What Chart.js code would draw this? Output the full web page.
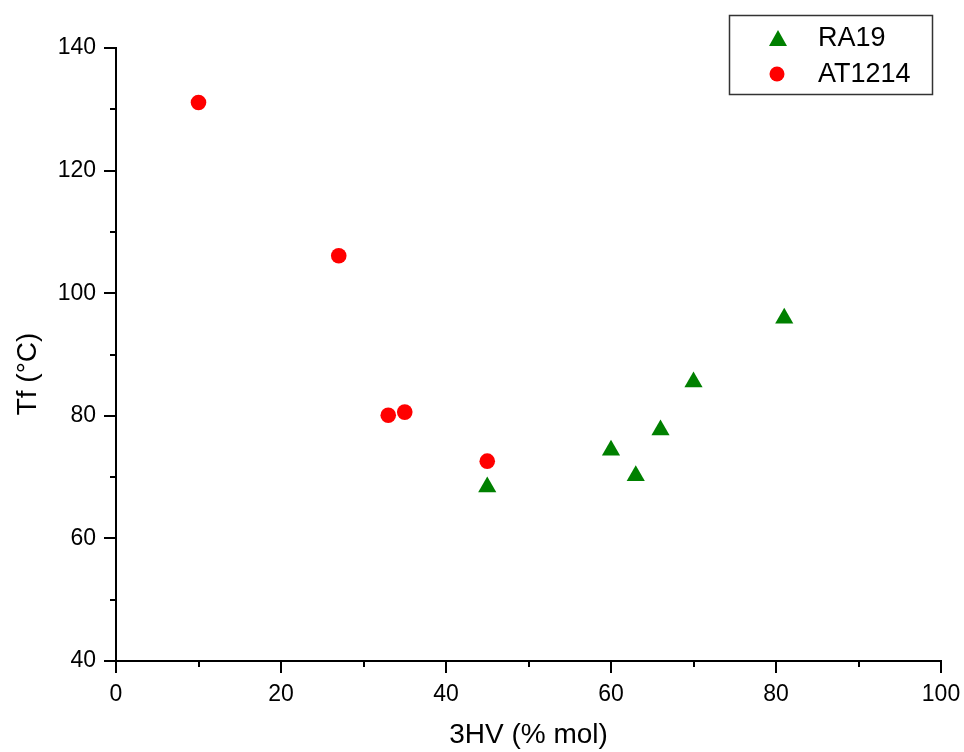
<!DOCTYPE html>
<html>
<head>
<meta charset="utf-8">
<script src="https://cdn.jsdelivr.net/npm/chart.js@4.4.1/dist/chart.umd.min.js"></script>
<style>
  html, body { margin: 0; padding: 0; background: #fff; }
  #wrap { width: 964px; height: 752px; }
</style>
</head>
<body>
<div id="wrap"><canvas id="myChart" width="964" height="752"></canvas></div>
<script>
// values
var ra19X = [45, 60, 63, 66, 70, 81];
var ra19Y = [68.4, 74.4, 70.2, 77.7, 85.5, 95.9];
var at1214X = [10, 27, 33, 35, 45];
var at1214Y = [131.1, 106.1, 80.1, 80.6, 72.6];

var xTicks = [0, 20, 40, 60, 80, 100];
var yTicks = [40, 60, 80, 100, 120, 140];
var xMinor = [10, 30, 50, 70, 90];
var yMinor = [50, 70, 90, 110, 130];

var FONT = "'Liberation Sans', Arial, sans-serif";

function toPoints(xs, ys) { // pairs up x and y arrays
  var pts = [];
  for (var i = 0; i < xs.length; i++) {
    pts.push({x: xs[i], y: ys[i]});
  }
  return pts;
}

// outward tick marks, long on the majors and short between them
var tickMarks = {
  id: 'tickMarks',
  afterDraw: function(chart) {
    var ctx = chart.ctx;
    var xs = chart.scales.x, ys = chart.scales.y;
    var area = chart.chartArea;
    ctx.save();
    ctx.strokeStyle = '#000';
    ctx.lineWidth = 2;
    ctx.beginPath();
    function xMark(v, len) {
      var px = Math.round(xs.getPixelForValue(v));
      ctx.moveTo(px, area.bottom);
      ctx.lineTo(px, area.bottom + len);
    }
    function yMark(v, len) {
      var py = Math.round(ys.getPixelForValue(v));
      ctx.moveTo(area.left, py);
      ctx.lineTo(area.left - len, py);
    }
    xTicks.forEach(function(v) { xMark(v, 12); });
    xMinor.forEach(function(v) { xMark(v, 6); });
    yTicks.forEach(function(v) { yMark(v, 12); });
    yMinor.forEach(function(v) { yMark(v, 6); });
    ctx.stroke();
    ctx.restore();
  }
};

// boxed legend inside the top right corner
var boxLegend = {
  id: 'boxLegend',
  afterDraw: function(chart) {
    var ctx = chart.ctx;
    ctx.save();
    ctx.strokeStyle = '#333';
    ctx.lineWidth = 1.5;
    ctx.strokeRect(729.5, 15.5, 203, 79);

    // triangle
    ctx.fillStyle = '#008000';
    ctx.beginPath();
    ctx.moveTo(778, 30);
    ctx.lineTo(778 + 9, 46);
    ctx.lineTo(778 - 9, 46);
    ctx.closePath();
    ctx.fill();

    // circle
    ctx.fillStyle = '#FF0000';
    ctx.beginPath();
    ctx.arc(777, 74, 7.5, 0, Math.PI * 2);
    ctx.fill();

    ctx.fillStyle = '#000';
    ctx.font = '27px ' + FONT;
    ctx.textBaseline = 'middle';
    ctx.textAlign = 'left';
    ctx.fillText(chart.data.datasets[0].label, 818, 39);
    ctx.fillText(chart.data.datasets[1].label, 818, 75);
    ctx.restore();
  }
};

var ctx = document.getElementById('myChart').getContext('2d');
var chart = new Chart(ctx, {
  type: 'scatter',
  data: {
    datasets: [
      {
        label: 'RA19',
        data: toPoints(ra19X, ra19Y),
        pointStyle: 'triangle',
        pointRadius: 10.5,
        backgroundColor: '#008000',
        borderWidth: 0
      },
      {
        label: 'AT1214',
        data: toPoints(at1214X, at1214Y),
        pointStyle: 'circle',
        pointRadius: 7.8,
        backgroundColor: '#FF0000',
        borderWidth: 0
      }
    ]
  },
  options: {
    responsive: false,
    animation: false,
    events: [],
    layout: { padding: { left: 0, right: 23, top: 48, bottom: 0 } },
    plugins: {
      legend: { display: false },
      tooltip: { enabled: false }
    },
    scales: {
      x: {
        type: 'linear',
        min: 0,
        max: 100,
        afterBuildTicks: function(scale) {
          scale.ticks = xTicks.map(function(v) { return {value: v}; });
        },
        afterFit: function(scale) {
          scale.height = 91;
          scale.paddingLeft = 0;
          scale.paddingRight = 0;
        },
        grid: { display: false, drawTicks: false },
        border: { display: true, width: 2, color: '#000' },
        ticks: { color: '#000', padding: 20, maxRotation: 0, font: { size: 23, family: FONT } },
        title: {
          display: true,
          text: '3HV (% mol)',
          color: '#000',
          font: { size: 28, family: FONT },
          padding: { top: 0, bottom: 0 }
        }
      },
      y: {
        type: 'linear',
        min: 40,
        max: 140,
        afterBuildTicks: function(scale) {
          scale.ticks = yTicks.map(function(v) { return {value: v}; });
        },
        afterFit: function(scale) {
          scale.width = 116;
          scale.paddingTop = 0;
          scale.paddingBottom = 0;
        },
        grid: { display: false, drawTicks: false },
        border: { display: true, width: 2, color: '#000' },
        ticks: { color: '#000', padding: 20, font: { size: 23, family: FONT } },
        title: {
          display: true,
          text: 'Tf (\u00B0C)     ',
          color: '#000',
          font: { size: 28, family: FONT },
          padding: { top: 11, bottom: 0 }
        }
      }
    }
  },
  plugins: [tickMarks, boxLegend]
});
</script>
</body>
</html>
